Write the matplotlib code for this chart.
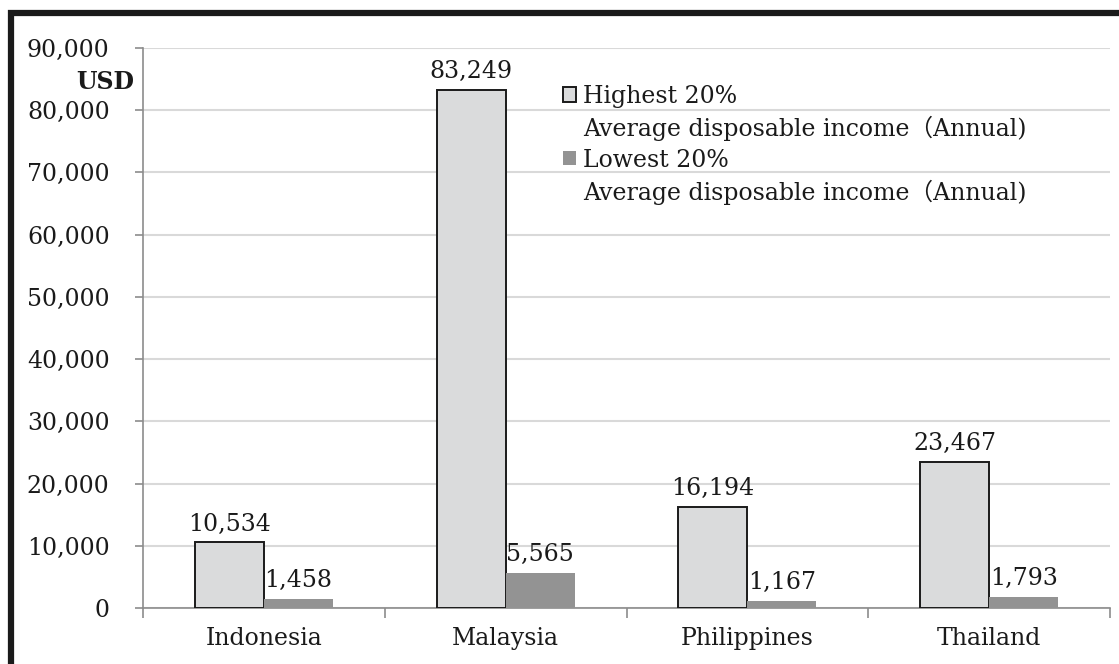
import matplotlib
matplotlib.use("Agg")
import matplotlib.pyplot as plt
from matplotlib.patches import Rectangle, Patch
import numpy as np

countries = ["Indonesia", "Malaysia", "Philippines", "Thailand"]
highest = [10534, 83249, 16194, 23467]
lowest = [1458, 5565, 1167, 1793]
series_names = ["Highest 20%", "Lowest 20%"]
sub_label = "Average disposable income\uff08Annual)"
yticks = list(range(0, 90001, 10000))

FONT = ["DejaVu Serif", "Noto Sans CJK JP"]
plt.rcParams["font.family"] = FONT
FS = 17

fig = plt.figure(figsize=(11.19, 6.64), dpi=100)
ax = fig.add_axes([143/1119, 1-608/664, (1110-143)/1119, (608-48)/664])

x = np.arange(len(countries))
w = 0.285
light = "#dadbdc"
dark = "#939393"
b1 = ax.bar(x - w/2, highest, w, color=light, edgecolor="#1a1a1a", linewidth=1.4, zorder=3)
b2 = ax.bar(x + w/2, lowest, w, color=dark, edgecolor="none", zorder=3)

for bars, vals in ((b1, highest), (b2, lowest)):
    for rect, v in zip(bars, vals):
        ax.annotate(f"{v:,}", (rect.get_x() + rect.get_width()/2, v),
                    xytext=(0, 5), textcoords="offset points",
                    ha="center", va="bottom", fontsize=FS, color="#1a1a1a")

ax.set_xlim(-0.5, len(countries) - 0.5)
ax.set_ylim(0, 90000)
ax.set_yticks(yticks)
ax.set_yticklabels([f"{t:,}" for t in yticks], fontsize=FS, color="#1a1a1a")
ax.set_xticks(x)
ax.set_xticklabels(countries, fontsize=FS, color="#1a1a1a")
ax.tick_params(axis="x", length=0, pad=14)
ax.set_xticks(np.arange(-0.5, len(countries)), minor=True)
ax.tick_params(axis="x", which="minor", length=7, color="#8c8c8c", width=1.2)
ax.tick_params(axis="y", length=6, color="#8c8c8c", width=1.2, pad=18)

ax.grid(axis="y", color="#d9d9d9", linewidth=1.5, zorder=0)
for s in ["top", "right"]:
    ax.spines[s].set_visible(False)
ax.spines["left"].set_color("#8c8c8c")
ax.spines["bottom"].set_color("#8c8c8c")
ax.spines["left"].set_linewidth(1.2)
ax.spines["bottom"].set_linewidth(1.2)

ax.text(-0.009, 84600, "USD", transform=ax.get_yaxis_transform(), ha="right", va="center",
        fontsize=FS, fontweight="bold", color="#1a1a1a")

handles = [Patch(facecolor=light, edgecolor="#1a1a1a", linewidth=1.4),
           Patch(facecolor="none", edgecolor="none"),
           Patch(facecolor=dark, edgecolor="none"),
           Patch(facecolor="none", edgecolor="none")]
labels = [series_names[0], sub_label, series_names[1], sub_label]
leg = ax.legend(handles, labels, loc="upper left", bbox_to_anchor=(0.4245, 0.951),
                frameon=False, fontsize=FS, handlelength=0.55, handleheight=0.55,
                handletextpad=0.3, labelspacing=0.33, borderaxespad=0)
for t in leg.get_texts():
    t.set_color("#1a1a1a")

fig.patches.append(Rectangle((10.5/1119, -0.1), 1.2, 1 - 12.5/664 + 0.1,
                             transform=fig.transFigure, fill=False,
                             edgecolor="#1a1a1a", linewidth=4.5))

fig.savefig("out.png", dpi=100)
